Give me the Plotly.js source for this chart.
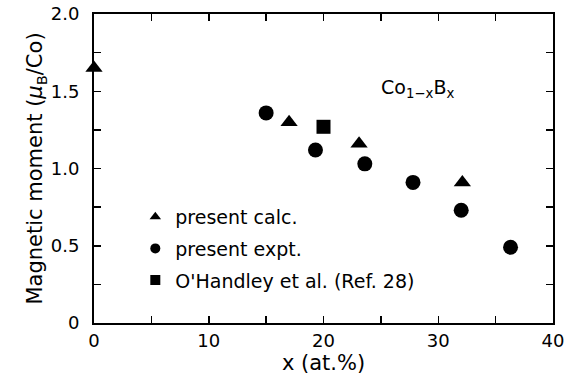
<!DOCTYPE html>
<html><head><meta charset="utf-8">
<script src="https://cdn.plot.ly/plotly-3.0.1.min.js"></script>
<style>html,body{margin:0;padding:0;background:#fff;}#chart{width:574px;height:385px;}</style>
</head><body><div id="chart"></div>
<script>
// Data
const calcX = [0, 17.0, 23.1, 32.1];
const calcY = [1.65, 1.30, 1.16, 0.91];
const exptX = [15.0, 19.3, 23.6, 27.8, 32.0, 36.3];
const exptY = [1.36, 1.12, 1.03, 0.91, 0.73, 0.49];
const ohX = [20.0];
const ohY = [1.27];
const seriesNames = ["present calc.", "present expt.", "O'Handley et al. (Ref. 28)"];
const xTickVals = [0, 10, 20, 30, 40];
const xTickText = ["0", "10", "20", "30", "40"];
const yTickVals = [0, 0.5, 1.0, 1.5, 2.0];
const yTickText = ["0", "0.5", "1.0", "1.5", "2.0"];

const FONT = "DejaVu Sans, Liberation Sans, sans-serif";
const symbols = ["triangle-up", "circle", "square"];
const sizes = [15, 15, 14];
const xs = [calcX, exptX, ohX], ys = [calcY, exptY, ohY];

const traces = [];
for (let i = 0; i < 3; i++) {
  traces.push({x: xs[i], y: ys[i], type: "scatter", mode: "markers", showlegend: false, cliponaxis: false,
    marker: {symbol: symbols[i], size: sizes[i], color: "#000"}});
}
for (let i = 0; i < 3; i++) {
  traces.push({x: [null], y: [null], type: "scatter", mode: "markers", name: seriesNames[i],
    legendgroup: "g" + i, marker: {symbol: symbols[i], size: 10, color: "#000"}});
}

const axisCommon = {
  showline: true, linecolor: "#000", linewidth: 2, mirror: "allticks", ticks: "inside", ticklen: 7,
  tickwidth: 1.5, tickcolor: "#000", showgrid: false, zeroline: false, automargin: false,
  tickfont: {family: FONT, size: 18, color: "#000"}
};

const layout = {
  width: 574, height: 385,
  margin: {l: 94, r: 21, t: 14, b: 62},
  paper_bgcolor: "#fff", plot_bgcolor: "#fff",
  font: {family: FONT, color: "#000"},
  xaxis: Object.assign({}, axisCommon, {
    range: [0, 40], tickmode: "array", tickvals: xTickVals, ticktext: xTickText, ticklabelstandoff: 0,
    minor: {tickmode: "linear", tick0: 0, dtick: 5, ticks: "inside", ticklen: 7, tickwidth: 1.5, tickcolor: "#000", showgrid: false},
    title: {text: "x (at.%)", font: {family: FONT, size: 21, color: "#000"}, standoff: 6}
  }),
  yaxis: Object.assign({}, axisCommon, {
    range: [0, 2], tickmode: "array", tickvals: yTickVals, ticktext: yTickText, ticklabelstandoff: 9,
    minor: {tickmode: "linear", tick0: 0, dtick: 0.25, ticks: "inside", ticklen: 7, tickwidth: 1.5, tickcolor: "#000", showgrid: false},
    title: {text: "Magnetic moment (<i>μ</i><sub>B</sub>/Co)", font: {family: FONT, size: 21, color: "#000"}, standoff: 2}
  }),
  legend: {x: 0.09, y: 0.405, xanchor: "left", yanchor: "top", bgcolor: "rgba(0,0,0,0)",
    font: {family: FONT, size: 19, color: "#000"}, traceorder: "grouped", tracegroupgap: 4},
  annotations: [{
    xref: "paper", yref: "paper", x: 0.622, y: 0.76, xanchor: "left", yanchor: "middle", showarrow: false,
    text: "Co<sub>1−x</sub>B<sub>x</sub>", font: {family: FONT, size: 19, color: "#000"}
  }]
};

Plotly.newPlot("chart", traces, layout, {staticPlot: true, displayModeBar: false});
</script>
</body></html>
